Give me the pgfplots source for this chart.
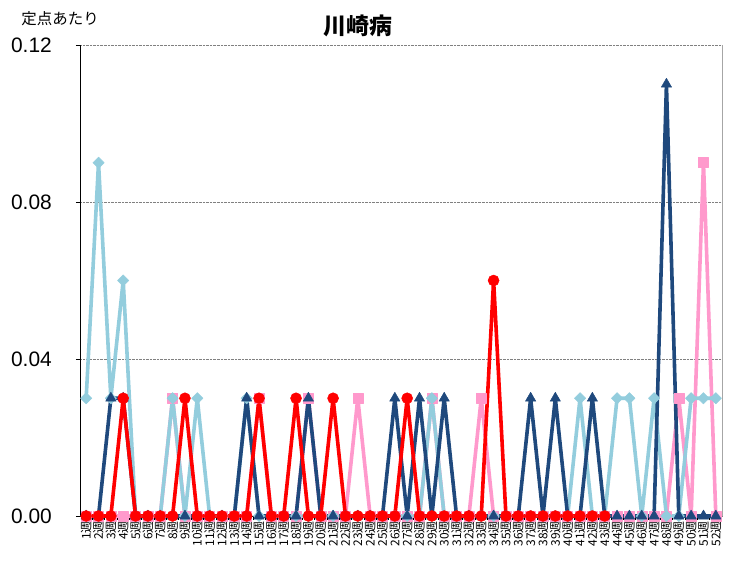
\documentclass[border=0pt]{standalone}
\usepackage{fontspec}
\setmainfont{Liberation Sans}
\newfontfamily\cjk{Noto Sans CJK JP}
\usepackage{pgfplots}
\usepackage{pgfplotstable}
\pgfplotsset{compat=1.18}
\definecolor{lb}{RGB}{147,205,221}
\definecolor{pk}{RGB}{255,153,204}
\definecolor{db}{RGB}{31,73,125}
\definecolor{rd}{RGB}{255,0,0}

\pgfplotstableread{
w LB PK DB
1 0.03 0 0
2 0.09 0 0
3 0.03 0 0.03
4 0.06 0 0.03
5 0 0 0
6 0 0 0
7 0 0 0
8 0.03 0.03 0
9 0 0 0
10 0.03 0 0
11 0 0 0
12 0 0 0
13 0 0 0
14 0.03 0 0.03
15 0 0.03 0
16 0 0 0
17 0 0 0
18 0 0 0
19 0 0.03 0.03
20 0 0 0
21 0 0 0
22 0 0 0
23 0 0.03 0
24 0 0 0
25 0 0 0
26 0 0 0.03
27 0 0 0
28 0 0 0.03
29 0.03 0.03 0
30 0 0 0.03
31 0 0 0
32 0 0 0
33 0 0.03 0
34 0 0 0
35 0 0 0
36 0 0 0
37 0 0 0.03
38 0 0 0
39 0 0 0.03
40 0 0 0
41 0.03 0 0
42 0 0 0.03
43 0 0 0
44 0.03 0 0
45 0.03 0 0
46 0 0 0
47 0.03 0 0
48 0 0 0.11
49 0 0.03 0
50 0.03 0 0
51 0.03 0.09 0
52 0.03 0 0
}\tblA

\pgfplotstableread{
w RD
1 0
2 0
3 0
4 0.03
5 0
6 0
7 0
8 0
9 0.03
10 0
11 0
12 0
13 0
14 0
15 0.03
16 0
17 0
18 0.03
19 0
20 0
21 0.03
22 0
23 0
24 0
25 0
26 0
27 0.03
28 0
29 0
30 0
31 0
32 0
33 0
34 0.06
35 0
36 0
37 0
38 0
39 0
40 0
41 0
42 0
43 0
}\tblB

\begin{document}
\begin{tikzpicture}
\useasboundingbox (-80bp,-45bp) rectangle (661bp,516bp);
\begin{axis}[
  at={(0,0)}, anchor=south west,
  scale only axis, width=642bp, height=471bp,
  xmin=0.5, xmax=52.5, ymin=0, ymax=0.12,
  clip=false,
  axis x line*=bottom, axis y line*=left,
  axis line style={black, line width=0.8bp, -},
  ytick={0,0.04,0.08,0.12},
  yticklabel style={/pgf/number format/fixed, /pgf/number format/fixed zerofill, /pgf/number format/precision=2,
    /pgf/number format/assume math mode=true,
    font=\fontsize{21}{21}\selectfont, anchor=east, inner sep=0pt, xshift=-24bp},
  ymajorgrids, grid style={densely dotted, gray, line width=0.8bp},
  tick align=outside, major tick length=4bp, minor tick length=4bp,
  major x tick style={draw=none},
  minor x tick style={black, line width=0.6bp},
  y tick style={black, line width=0.8bp},
  xtick={1,...,52},
  minor xtick={1.5,2.5,...,51.5},
  xticklabels={1週,2週,3週,4週,5週,6週,7週,8週,9週,10週,11週,12週,13週,14週,15週,16週,17週,18週,19週,20週,21週,22週,23週,24週,25週,26週,27週,28週,29週,30週,31週,32週,33週,34週,35週,36週,37週,38週,39週,40週,41週,42週,43週,44週,45週,46週,47週,48週,49週,50週,51週,52週},
  xticklabel style={font=\cjk\fontsize{12}{12}\selectfont, rotate=90, anchor=east, inner sep=1bp},
  every axis plot/.append style={line join=round, line cap=round},
]
\addplot[pk, line width=3.6bp, mark=square*, mark size=5bp, mark options={solid, line width=0.5bp}] table[x=w, y=PK] {\tblA};
\addplot[lb, line width=3.6bp, mark=square*, mark size=4bp, mark options={solid, rotate=45, line width=0.5bp}] table[x=w, y=LB] {\tblA};
\addplot[db, line width=3.6bp, mark=triangle*, mark size=6bp, mark options={solid, line width=0.5bp}] table[x=w, y=DB] {\tblA};
\addplot[rd, line width=3.6bp, mark=*, mark size=5.5bp, mark options={solid, line width=0.5bp}] table[x=w, y=RD] {\tblB};
\draw[gray!70, line width=0.8bp] (rel axis cs:1,0) -- (rel axis cs:1,1);
\node[font=\cjk\bfseries\fontsize{23}{23}\selectfont] at (axis description cs:0.433,1.040) {川崎病};
\node[font=\cjk\fontsize{15.5}{15.5}\selectfont] at (axis description cs:-0.031,1.055) {定点あたり};
\end{axis}
\end{tikzpicture}
\end{document}
